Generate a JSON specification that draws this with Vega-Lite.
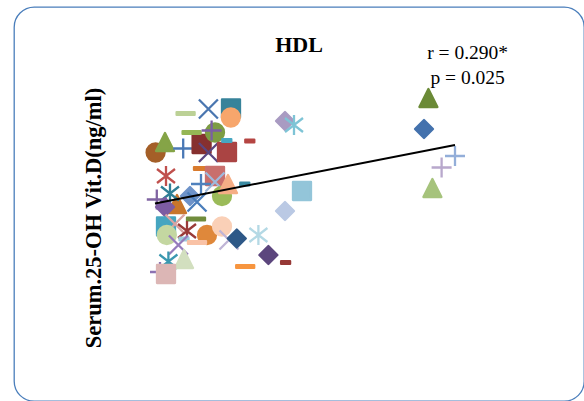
{
  "$schema": "https://vega.github.io/schema/vega-lite/v6.json",
  "width": 570,
  "height": 394,
  "autosize": {"type": "none"},
  "padding": {"left": 14, "top": 7, "right": 0, "bottom": 0},
  "background": "white",
  "title": {"text": "HDL", "font": "Liberation Serif", "fontSize": 22, "fontWeight": "bold", "color": "black", "anchor": "middle", "frame": "group", "offset": 0, "baseline": "alphabetic", "dy": 67},
  "datasets": {
    "points": [
      {"series": "S01", "hdl": 42.9, "vitd": 57.7},
      {"series": "S02", "hdl": 48.6, "vitd": 58.6},
      {"series": "S03", "hdl": 54.25, "vitd": 58.7},
      {"series": "S04", "hdl": 54.2, "vitd": 56.9},
      {"series": "S05", "hdl": 67.75, "vitd": 56.2},
      {"series": "S06", "hdl": 70, "vitd": 55.4},
      {"series": "S07", "hdl": 35.4, "vitd": 49.9},
      {"series": "S08", "hdl": 37.75, "vitd": 52},
      {"series": "S09", "hdl": 42.3, "vitd": 50.7},
      {"series": "S10", "hdl": 46.9, "vitd": 51.6},
      {"series": "S11", "hdl": 44.4, "vitd": 53.9},
      {"series": "S12", "hdl": 50.25, "vitd": 53.9},
      {"series": "S13", "hdl": 49.4, "vitd": 54.3},
      {"series": "S14", "hdl": 48.6, "vitd": 49.9},
      {"series": "S15", "hdl": 53.25, "vitd": 50},
      {"series": "S16", "hdl": 53.2, "vitd": 52.3},
      {"series": "S17", "hdl": 58.95, "vitd": 52.2},
      {"series": "S18", "hdl": 47.25, "vitd": 46.7},
      {"series": "S19", "hdl": 50.25, "vitd": 45.2},
      {"series": "S20", "hdl": 50.25, "vitd": 44},
      {"series": "S21", "hdl": 52, "vitd": 41.2},
      {"series": "S22", "hdl": 53.5, "vitd": 43.6},
      {"series": "S23", "hdl": 57.7, "vitd": 43.6},
      {"series": "S24", "hdl": 38, "vitd": 45.2},
      {"series": "S25", "hdl": 46.75, "vitd": 43.6},
      {"series": "S26", "hdl": 72, "vitd": 42.2},
      {"series": "S27", "hdl": 40.75, "vitd": 39.6},
      {"series": "S28", "hdl": 39, "vitd": 41.7},
      {"series": "S29", "hdl": 35.7, "vitd": 40.5},
      {"series": "S30", "hdl": 37.75, "vitd": 39},
      {"series": "S31", "hdl": 44, "vitd": 41.2},
      {"series": "S32", "hdl": 45.75, "vitd": 40},
      {"series": "S33", "hdl": 45.5, "vitd": 36.6},
      {"series": "S34", "hdl": 38, "vitd": 35.1},
      {"series": "S35", "hdl": 40.25, "vitd": 35.6},
      {"series": "S36", "hdl": 38.2, "vitd": 33.4},
      {"series": "S37", "hdl": 43.25, "vitd": 34.2},
      {"series": "S38", "hdl": 48.25, "vitd": 33.4},
      {"series": "S39", "hdl": 52, "vitd": 35.1},
      {"series": "S40", "hdl": 42.5, "vitd": 32.6},
      {"series": "S41", "hdl": 45.75, "vitd": 31.9},
      {"series": "S42", "hdl": 41.1, "vitd": 31.4},
      {"series": "S43", "hdl": 53.75, "vitd": 32.4},
      {"series": "S44", "hdl": 55.7, "vitd": 32.7},
      {"series": "S45", "hdl": 61.1, "vitd": 33.4},
      {"series": "S46", "hdl": 67.75, "vitd": 38.2},
      {"series": "S47", "hdl": 63.6, "vitd": 29.4},
      {"series": "S48", "hdl": 67.9, "vitd": 27.9},
      {"series": "S49", "hdl": 57.8, "vitd": 27.1},
      {"series": "S50", "hdl": 38.6, "vitd": 28.1},
      {"series": "S51", "hdl": 42.5, "vitd": 28.6},
      {"series": "S52", "hdl": 36.5, "vitd": 26},
      {"series": "S53", "hdl": 38, "vitd": 25.6},
      {"series": "S54", "hdl": 103.6, "vitd": 60.8},
      {"series": "S55", "hdl": 102.5, "vitd": 54.6},
      {"series": "S56", "hdl": 110.25, "vitd": 49.2},
      {"series": "S57", "hdl": 106.9, "vitd": 46.9},
      {"series": "S58", "hdl": 104.6, "vitd": 42.8}
    ],
    "trend": [
      {"hdl": 35.25, "vitd": 39.7},
      {"hdl": 110.25, "vitd": 51.4}
    ],
    "stats": [
      {"hdl": 113.4, "vitd": 68.6, "label": "r = 0.290*"},
      {"hdl": 113.4, "vitd": 63.6, "label": "p = 0.025"}
    ]
  },
  "layer": [
    {
      "data": {"name": "points"},
      "mark": {"type": "point", "filled": true, "size": 400, "strokeWidth": 2.3, "strokeJoin": "round", "opacity": 1},
      "encoding": {
        "x": {"field": "hdl", "type": "quantitative", "scale": {"domain": [0, 142.5], "nice": false, "zero": false}, "axis": null},
        "y": {"field": "vitd", "type": "quantitative", "scale": {"domain": [0.2, 79], "nice": false, "zero": false}, "title": "Serum.25-OH Vit.D(ng/ml)"},
        "shape": {"field": "series", "type": "nominal", "legend": null, "scale": {"range": [
          "M-0.9,-0.14H0.9V0.14H-0.9Z",
          "M-0.95,-0.95L0.95,0.95M-0.95,0.95L0.95,-0.95",
          "M-0.9,-0.9H0.9V0.9H-0.9Z",
          "M0.9,0A0.9,0.9,0,1,1,-0.9,0A0.9,0.9,0,1,1,0.9,0Z",
          "M0,-0.9L0.9,0L0,0.9L-0.9,0Z",
          "M-0.9,-0.7L0.9,0.7M-0.9,0.7L0.9,-0.7M0,-1V1",
          "M0.9,0A0.9,0.9,0,1,1,-0.9,0A0.9,0.9,0,1,1,0.9,0Z",
          "M0,-0.9L0.9,0.9L-0.9,0.9Z",
          "M-1,0H1M0,-1V1",
          "M-0.9,-0.9H0.9V0.9H-0.9Z",
          "M-0.9,-0.14H0.9V0.14H-0.9Z",
          "M0.9,0A0.9,0.9,0,1,1,-0.9,0A0.9,0.9,0,1,1,0.9,0Z",
          "M-1,0H1M0,-1V1",
          "M-0.95,-0.95L0.95,0.95M-0.95,0.95L0.95,-0.95",
          "M-0.9,-0.9H0.9V0.9H-0.9Z",
          "M-0.45,-0.14H0.45V0.14H-0.45Z",
          "M-0.45,-0.14H0.45V0.14H-0.45Z",
          "M-0.9,-0.14H0.9V0.14H-0.9Z",
          "M-0.9,-0.9H0.9V0.9H-0.9Z",
          "M-0.95,-0.95L0.95,0.95M-0.95,0.95L0.95,-0.95",
          "M0.9,0A0.9,0.9,0,1,1,-0.9,0A0.9,0.9,0,1,1,0.9,0Z",
          "M0,-0.9L0.9,0.9L-0.9,0.9Z",
          "M-0.45,-0.14H0.45V0.14H-0.45Z",
          "M-0.9,-0.7L0.9,0.7M-0.9,0.7L0.9,-0.7M0,-1V1",
          "M-1,0H1M0,-1V1",
          "M-0.9,-0.9H0.9V0.9H-0.9Z",
          "M0,-0.9L0.9,0.9L-0.9,0.9Z",
          "M-0.9,-0.7L0.9,0.7M-0.9,0.7L0.9,-0.7M0,-1V1",
          "M-1,0H1M0,-1V1",
          "M0,-0.9L0.9,0L0,0.9L-0.9,0Z",
          "M0,-0.9L0.9,0L0,0.9L-0.9,0Z",
          "M-0.95,-0.95L0.95,0.95M-0.95,0.95L0.95,-0.95",
          "M-0.9,-0.14H0.9V0.14H-0.9Z",
          "M-0.9,-0.9H0.9V0.9H-0.9Z",
          "M-0.95,-0.95L0.95,0.95M-0.95,0.95L0.95,-0.95",
          "M0.9,0A0.9,0.9,0,1,1,-0.9,0A0.9,0.9,0,1,1,0.9,0Z",
          "M-0.9,-0.7L0.9,0.7M-0.9,0.7L0.9,-0.7M0,-1V1",
          "M0.9,0A0.9,0.9,0,1,1,-0.9,0A0.9,0.9,0,1,1,0.9,0Z",
          "M0.9,0A0.9,0.9,0,1,1,-0.9,0A0.9,0.9,0,1,1,0.9,0Z",
          "M-0.45,-0.14H0.45V0.14H-0.45Z",
          "M-0.9,-0.14H0.9V0.14H-0.9Z",
          "M-0.95,-0.95L0.95,0.95M-0.95,0.95L0.95,-0.95",
          "M-0.95,-0.95L0.95,0.95M-0.95,0.95L0.95,-0.95",
          "M0,-0.9L0.9,0L0,0.9L-0.9,0Z",
          "M-0.9,-0.7L0.9,0.7M-0.9,0.7L0.9,-0.7M0,-1V1",
          "M0,-0.9L0.9,0L0,0.9L-0.9,0Z",
          "M0,-0.9L0.9,0L0,0.9L-0.9,0Z",
          "M-0.45,-0.14H0.45V0.14H-0.45Z",
          "M-0.9,-0.14H0.9V0.14H-0.9Z",
          "M-0.9,-0.7L0.9,0.7M-0.9,0.7L0.9,-0.7M0,-1V1",
          "M0,-0.9L0.9,0.9L-0.9,0.9Z",
          "M-1,0H1M0,-1V1",
          "M-0.9,-0.9H0.9V0.9H-0.9Z",
          "M0,-0.9L0.9,0.9L-0.9,0.9Z",
          "M0,-0.9L0.9,0L0,0.9L-0.9,0Z",
          "M-1,0H1M0,-1V1",
          "M-1,0H1M0,-1V1",
          "M0,-0.9L0.9,0.9L-0.9,0.9Z"
        ]}},
        "fill": {"field": "series", "type": "nominal", "legend": null, "scale": {"range": [
          "#bcd196", "#4a76b0", "#37839a", "#f7a66c", "#a99bc2", "#7ec4d6", "#a45f28", "#85a447", "#4a79b5", "#86302f",
          "#95b655", "#7d9c43", "#7b5ea3", "#5a4680", "#aa4443", "#46a7c2", "#b54543", "#d97b2e", "#c96f6d", "#9fbadd",
          "#9bbb59", "#f5ae86", "#3a8aa2", "#c0504d", "#4f81bd", "#93c5d9", "#c8762b", "#2f7f95", "#8064a2", "#7d5ca2",
          "#6e93c9", "#4a7dbb", "#708c3c", "#46a5c0", "#d9a3a2", "#c4d7a1", "#9a3a38", "#df883b", "#fad0b7", "#9ccadc",
          "#f9c2a6", "#957cbc", "#bfb4d6", "#2e5887", "#b4d9e5", "#bac9e4", "#5c467d", "#963836", "#f7953f", "#3a98b0",
          "#d2dfbf", "#8c72b2", "#dcb6b5", "#6b8a37", "#4472ad", "#93aed9", "#b8a8cc", "#a6c37c"
        ]}},
        "stroke": {"field": "series", "type": "nominal", "legend": null, "scale": {"range": [
          "#bcd196", "#4a76b0", "#37839a", "#f7a66c", "#a99bc2", "#7ec4d6", "#a45f28", "#85a447", "#4a79b5", "#86302f",
          "#95b655", "#7d9c43", "#7b5ea3", "#5a4680", "#aa4443", "#46a7c2", "#b54543", "#d97b2e", "#c96f6d", "#9fbadd",
          "#9bbb59", "#f5ae86", "#3a8aa2", "#c0504d", "#4f81bd", "#93c5d9", "#c8762b", "#2f7f95", "#8064a2", "#7d5ca2",
          "#6e93c9", "#4a7dbb", "#708c3c", "#46a5c0", "#d9a3a2", "#c4d7a1", "#9a3a38", "#df883b", "#fad0b7", "#9ccadc",
          "#f9c2a6", "#957cbc", "#bfb4d6", "#2e5887", "#b4d9e5", "#bac9e4", "#5c467d", "#963836", "#f7953f", "#3a98b0",
          "#d2dfbf", "#8c72b2", "#dcb6b5", "#6b8a37", "#4472ad", "#93aed9", "#b8a8cc", "#a6c37c"
        ]}}
      }
    },
    {
      "data": {"name": "trend"},
      "mark": {"type": "line", "color": "black", "strokeWidth": 2},
      "encoding": {
        "x": {"field": "hdl", "type": "quantitative", "scale": {"domain": [0, 142.5], "nice": false, "zero": false}, "axis": null},
        "y": {"field": "vitd", "type": "quantitative", "scale": {"domain": [0.2, 79], "nice": false, "zero": false}, "title": "Serum.25-OH Vit.D(ng/ml)"}
      }
    },
    {
      "data": {"name": "stats"},
      "mark": {"type": "text", "font": "Liberation Serif", "fontSize": 19.5, "align": "center", "baseline": "alphabetic", "color": "black"},
      "encoding": {
        "x": {"field": "hdl", "type": "quantitative", "scale": {"domain": [0, 142.5], "nice": false, "zero": false}, "axis": null},
        "y": {"field": "vitd", "type": "quantitative", "scale": {"domain": [0.2, 79], "nice": false, "zero": false}, "title": "Serum.25-OH Vit.D(ng/ml)"},
        "text": {"field": "label", "type": "nominal"}
      }
    }
  ],
  "config": {
    "view": {"stroke": "#4a7ebb", "strokeWidth": 1.3, "cornerRadius": 20},
    "axisY": {"domain": false, "ticks": false, "labels": false, "grid": false, "titleFont": "Liberation Serif", "titleFontSize": 22.5, "titleFontWeight": "bold", "titleColor": "black", "titleAngle": 270, "titleAlign": "center", "titleBaseline": "alphabetic", "titleX": 86, "titleY": 210.5}
  }
}
